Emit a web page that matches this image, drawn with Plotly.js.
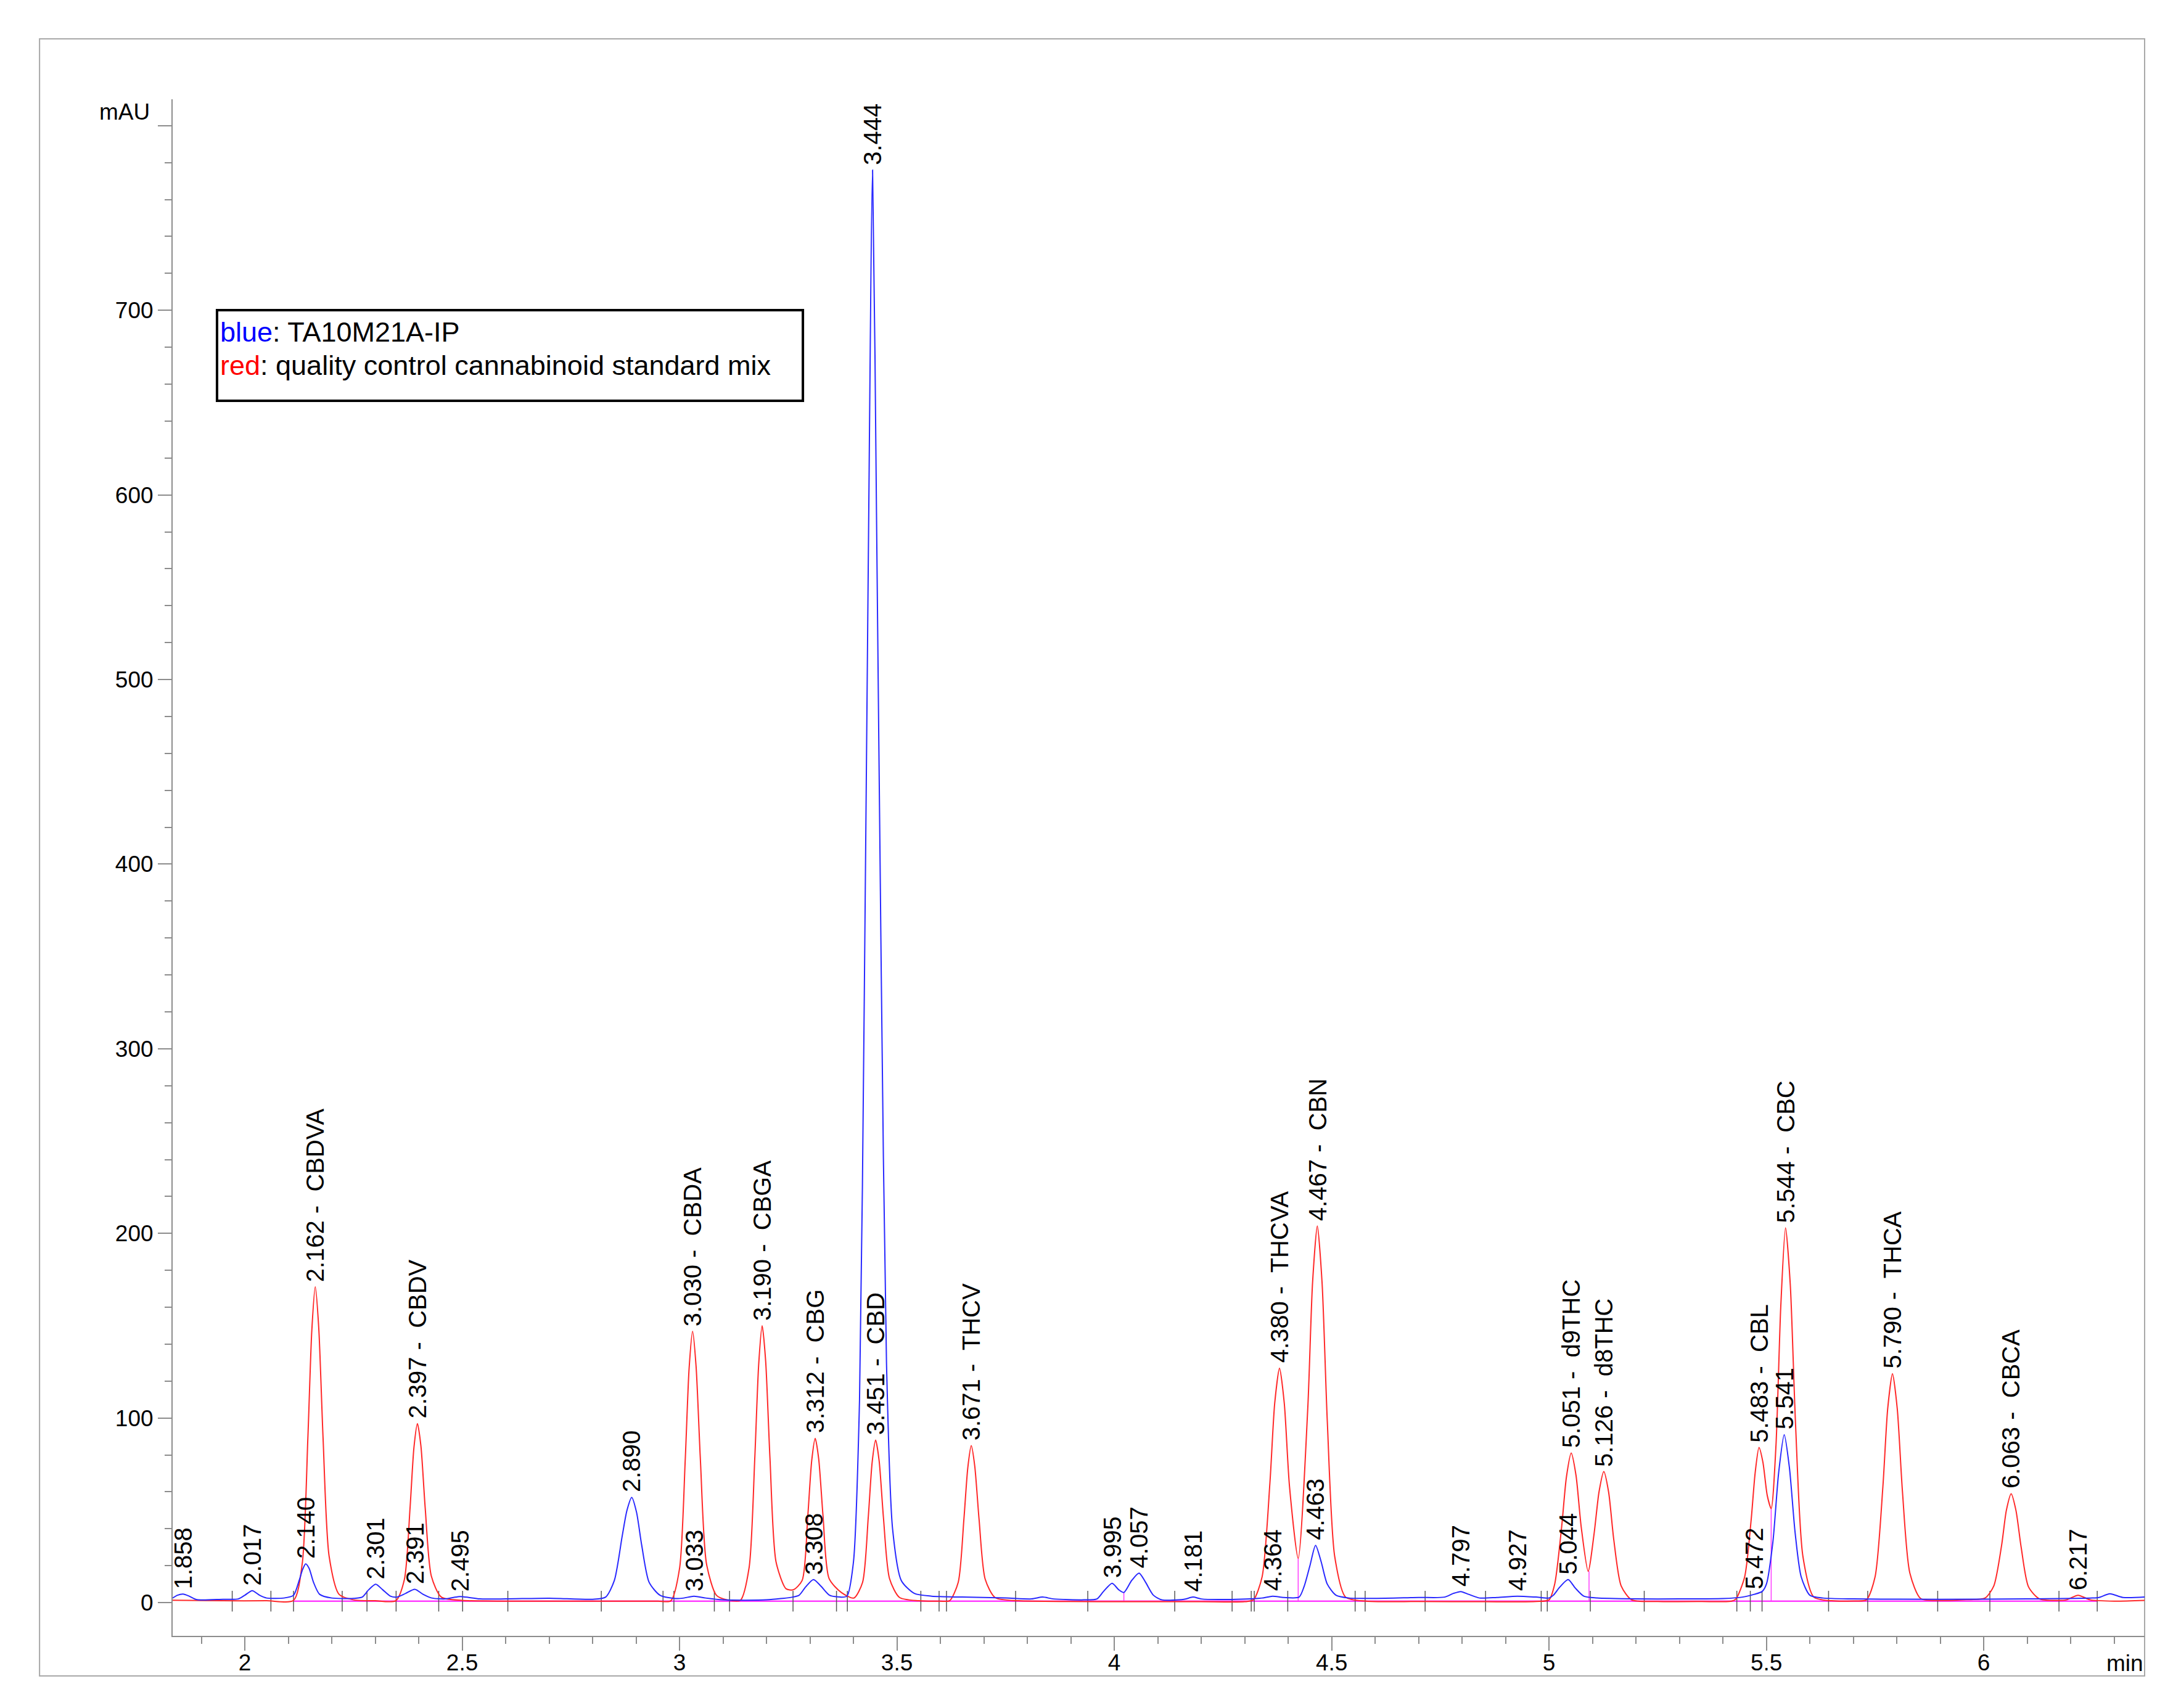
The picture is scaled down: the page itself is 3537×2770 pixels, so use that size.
<!DOCTYPE html>
<html>
<head>
<meta charset="utf-8">
<script src="https://cdn.plot.ly/plotly-3.0.1.min.js"></script>
<style>
  html, body { margin: 0; padding: 0; background: #fff; }
  #chart { width: 3537px; height: 2770px; }
</style>
</head>
<body>
<div id="chart"></div>
<script>
// red trace: quality control cannabinoid standard mix (time in min, signal in mAU)
const redTime = [
  1.834, 1.95, 2.05, 2.112,
  2.132, 2.145, 2.154, 2.162, 2.170, 2.180, 2.194, 2.217, 2.25, 2.30,
  2.347, 2.367, 2.380, 2.389, 2.397, 2.405, 2.415, 2.429, 2.452, 2.50, 2.60, 2.80, 2.95,
  2.980, 3.000, 3.013, 3.022, 3.030, 3.038, 3.048, 3.062, 3.085, 3.11,
  3.140, 3.160, 3.173, 3.182, 3.190, 3.198, 3.208, 3.222, 3.245,
  3.262, 3.282, 3.295, 3.304, 3.312, 3.320, 3.330, 3.344, 3.372,
  3.401, 3.421, 3.434, 3.443, 3.451, 3.459, 3.469, 3.483, 3.506, 3.55, 3.60,
  3.621, 3.641, 3.654, 3.663, 3.671, 3.679, 3.689, 3.703, 3.726, 3.78, 3.90, 4.05, 4.20, 4.30,
  4.320, 4.340, 4.358, 4.369, 4.380, 4.391, 4.403, 4.423,
  4.445, 4.456, 4.467, 4.478, 4.490, 4.507, 4.532, 4.58, 4.70, 4.85, 4.97,
  5.000, 5.013, 5.029, 5.040, 5.051, 5.062, 5.074, 5.090,
  5.104, 5.115, 5.126, 5.137, 5.149, 5.166, 5.19, 5.25, 5.35, 5.42,
  5.430, 5.450, 5.465, 5.474, 5.483, 5.492, 5.502, 5.511,
  5.522, 5.533, 5.544, 5.555, 5.567, 5.584, 5.609, 5.65, 5.70,
  5.730, 5.750, 5.768, 5.779, 5.790, 5.801, 5.813, 5.830, 5.855, 5.90, 5.96,
  6.003, 6.023, 6.041, 6.052, 6.063, 6.074, 6.086, 6.103, 6.128, 6.17,
  6.19, 6.217, 6.245, 6.30, 6.370
];
const redSignal = [
  1.3, 1.0, 1.0, 1.2,
  21, 89, 147, 171, 149, 89, 25, 4.4, 1.5, 1.0,
  1.0, 12.5, 51, 84, 97, 85, 51, 14.4, 3.0, 1.2, 0.8, 0.8, 0.8,
  1.0, 18.5, 77, 127, 147, 128, 77, 21, 3.9, 1.5,
  1.3, 19, 78, 129, 150, 131, 78, 22, 7.5,
  7.0, 12, 47, 77, 89, 78, 47, 13, 5.5,
  2.5, 11, 46, 76, 88, 77, 46, 13, 2.8, 1.0, 0.8,
  1.0, 11, 45, 73, 85, 74, 45, 12.7, 2.7, 1.0, 0.6, 0.5, 0.5, 0.5,
  1.5, 14, 65, 108, 127, 108, 63, 24,
  105, 173, 204, 173, 98, 25, 3.0, 0.8, 0.6, 0.5, 0.6,
  1.5, 10, 41, 68, 81, 69, 41, 17,
  38, 60, 71, 60, 34, 9, 1.5, 0.6, 0.6, 0.8,
  2, 14, 45, 70, 84, 76, 58, 51,
  85, 160, 203, 172, 97, 25, 3, 1.0, 0.9,
  1.5, 14, 63, 105, 124, 105, 60, 16, 2.2, 1.2, 1.6,
  2.5, 9, 31, 50, 59, 50, 30, 8.5, 2.0, 1.2,
  1.5, 4, 1.5, 0.8, 1.2
];

// blue trace: TA10M21A-IP
const blueTime = [
  1.834, 1.845, 1.858, 1.872, 1.89, 1.95,
  1.985, 2.000, 2.017, 2.034, 2.05, 2.09,
  2.112, 2.125, 2.133, 2.140, 2.148, 2.158, 2.172, 2.20, 2.25,
  2.27, 2.285, 2.301, 2.317, 2.335, 2.35,
  2.37, 2.391, 2.41, 2.43, 2.46,
  2.48, 2.495, 2.515, 2.54, 2.60, 2.70, 2.80,
  2.83, 2.85, 2.868, 2.879, 2.890, 2.901, 2.913, 2.93, 2.955, 2.99,
  3.01, 3.033, 3.06, 3.10, 3.20, 3.26,
  3.275, 3.29, 3.308, 3.325, 3.345, 3.37,
  3.385, 3.400, 3.414, 3.425, 3.434, 3.444, 3.453, 3.464, 3.476, 3.490, 3.510, 3.540, 3.58, 3.65, 3.75,
  3.81, 3.835, 3.86, 3.93,
  3.960, 3.975, 3.995, 4.010, 4.022, 4.040, 4.057, 4.072, 4.090, 4.11,
  4.16, 4.181, 4.20, 4.28,
  4.34, 4.364, 4.39, 4.425,
  4.437, 4.450, 4.463, 4.476, 4.490, 4.510, 4.54, 4.60, 4.70,
  4.76, 4.78, 4.797, 4.815, 4.84,
  4.88, 4.927, 4.97, 5.00,
  5.01, 5.025, 5.044, 5.06, 5.08, 5.11, 5.20, 5.30, 5.40,
  5.445, 5.472, 5.49,
  5.500, 5.515, 5.528, 5.541, 5.553, 5.566, 5.580, 5.600, 5.63, 5.70, 5.90, 6.10, 6.25,
  6.265, 6.29, 6.32, 6.370
];
const blueSignal = [
  2.5, 4, 4.6, 3.5, 1.6, 1.8,
  2, 4, 6.5, 4, 2.5, 2.5,
  4, 12, 18, 21, 18.5, 11, 4.5, 2.5, 2.3,
  3, 7, 10, 7, 3.5, 3,
  5, 7.2, 4.5, 2.5, 2,
  2.8, 3.3, 2.8, 2.0, 2.0, 2.4, 1.8,
  3, 12, 36, 50, 57, 49, 31, 11, 4, 2.2,
  2.5, 3.5, 2.5, 1.5, 1.5, 3,
  4, 8.5, 12.5, 9, 4, 3,
  3.5, 22, 110, 330, 560, 776, 590, 340, 130, 40, 12, 5, 3.5, 3, 2.5,
  2, 3, 2, 1.5,
  2, 6, 10.5, 7, 5.5, 12, 16, 11, 4, 1.5,
  1.8, 3, 2.0, 1.8,
  2.5, 3.5, 2.8, 3,
  9, 20, 31, 22, 10, 4, 2.5, 2.3, 2.8,
  3, 5, 6, 4.5, 2.5,
  2.8, 3.5, 3, 2.5,
  4, 8.5, 12.5, 8, 3.5, 2.5, 2, 2, 2.2,
  3, 4.5, 6,
  10, 33, 70, 91, 73, 38, 14, 4, 2.5, 2, 1.8, 2, 2.5,
  2.8, 4.8, 2.8, 3
];

// peak labels (retention time, compound, apex height)
const labelTime = [1.858, 2.017, 2.140, 2.162, 2.301, 2.391, 2.397, 2.495, 2.890, 3.030,
  3.033, 3.190, 3.308, 3.312, 3.444, 3.451, 3.671, 3.995, 4.057, 4.181,
  4.364, 4.380, 4.463, 4.467, 4.797, 4.927, 5.044, 5.051, 5.126, 5.472,
  5.483, 5.541, 5.544, 5.790, 6.063, 6.217];
const labelName = ['', '', '', 'CBDVA', '', '', 'CBDV', '', '', 'CBDA',
  '', 'CBGA', '', 'CBG', '', 'CBD', 'THCV', '', '', '',
  '', 'THCVA', '', 'CBN', '', '', '', 'd9THC', 'd8THC', '',
  'CBL', '', 'CBC', 'THCA', 'CBCA', ''];
const labelHeight = [4.6, 6.5, 21, 171, 10, 7.2, 97, 3.3, 57, 147,
  3.5, 150, 12.5, 89, 776, 88, 85, 10.5, 16, 3,
  3.5, 127, 31, 204, 6, 3.5, 12.5, 81, 71, 4.5,
  84, 91, 203, 124, 59, 4];

// integration marks, baseline and drop lines
const markTime = [1.971, 2.060, 2.112, 2.224, 2.281, 2.348, 2.446, 2.501, 2.605, 2.820,
  2.962, 2.987, 3.080, 3.115, 3.261, 3.361, 3.386, 3.555, 3.597, 3.614,
  3.773, 3.939, 4.139, 4.271, 4.315, 4.322, 4.399, 4.554, 4.577, 4.715,
  4.854, 4.982, 4.996, 5.095, 5.219, 5.432, 5.463, 5.490, 5.643, 5.733,
  5.894, 6.014, 6.173, 6.261];
const baseTime = [2.112, 6.261];
const baseLevel = [0.8, 0.8];
const dropTime = [4.022, 4.423, 5.092, 5.511];
const dropTop = [5.5, 24, 17, 51];

// axis ticks
const xTickVals = [2, 2.5, 3, 3.5, 4, 4.5, 5, 5.5, 6];
const xTickText = ['2', '2.5', '3', '3.5', '4', '4.5', '5', '5.5', '6'];
const yTickVals = [0, 100, 200, 300, 400, 500, 600, 700, 800];
const yTickText = ['0', '100', '200', '300', '400', '500', '600', '700', ''];

const axisGray = '#8c8c8c';
const fontFamily = 'Liberation Sans, Arial, Helvetica, sans-serif';

const dropX = [], dropY = [];
dropTime.forEach((t, i) => {
    dropX.push(t, t, null);
    dropY.push(baseLevel[0], dropTop[i], null);
});

const traces = [
    {
        x: baseTime, y: baseLevel, type: 'scatter', mode: 'lines',
        line: { color: '#ff3cff', width: 2.5 }, hoverinfo: 'skip'
    },
    {
        x: dropX, y: dropY, type: 'scatter', mode: 'lines',
        line: { color: '#ff3cff', width: 1.5 }, hoverinfo: 'skip'
    },
    {
        x: markTime, y: markTime.map(() => baseLevel[0]), type: 'scatter', mode: 'markers',
        marker: { symbol: 'line-ns', size: 24, line: { color: '#555555', width: 1.5 } },
        hoverinfo: 'skip'
    },
    {
        x: redTime, y: redSignal, type: 'scatter', mode: 'lines', name: 'red',
        line: { color: 'rgb(255,40,40)', width: 2, shape: 'spline', smoothing: 0.7 }
    },
    {
        x: blueTime, y: blueSignal, type: 'scatter', mode: 'lines', name: 'blue',
        line: { color: 'rgb(40,40,255)', width: 2, shape: 'spline', smoothing: 0.7 }
    }
];

const peakAnnotations = labelTime.map((t, i) => ({
    x: t, y: labelHeight[i], xref: 'x', yref: 'y',
    text: t.toFixed(3) + (labelName[i] ? ' -\u00a0 ' + labelName[i] : ''),
    showarrow: false, textangle: -90,
    xanchor: 'center', yanchor: 'bottom', yshift: 6,
    font: { size: 40, color: '#000' }
}));

const layout = {
    width: 3537,
    height: 2770,
    margin: { l: 280, r: 59, t: 161, b: 117 },
    paper_bgcolor: '#ffffff',
    plot_bgcolor: '#ffffff',
    showlegend: false,
    font: { family: fontFamily, size: 37, color: '#000' },
    xaxis: {
        range: [1.834, 6.370],
        showgrid: false, zeroline: false,
        showline: true, linecolor: axisGray, linewidth: 2,
        ticks: 'outside', ticklen: 22, tickwidth: 2, tickcolor: axisGray,
        tickmode: 'array', tickvals: xTickVals, ticktext: xTickText,
        ticklabelstandoff: -12,
        tickfont: { size: 37, color: '#000' },
        minor: { tickmode: 'linear', tick0: 0, dtick: 0.1, ticks: 'outside', ticklen: 11, tickwidth: 2, tickcolor: axisGray }
    },
    yaxis: {
        range: [-18, 814.3],
        showgrid: false, zeroline: false,
        showline: true, linecolor: axisGray, linewidth: 2,
        ticks: 'outside', ticklen: 22, tickwidth: 2, tickcolor: axisGray,
        tickmode: 'array', tickvals: yTickVals, ticktext: yTickText,
        tickfont: { size: 37, color: '#000' },
        minor: { tickmode: 'linear', tick0: 0, dtick: 20, ticks: 'outside', ticklen: 11, tickwidth: 2, tickcolor: axisGray }
    },
    shapes: [
        // outer frame
        { type: 'rect', xref: 'paper', yref: 'paper', x0: -0.0675, x1: 1.0, y0: -0.0261, y1: 1.0393,
          line: { color: '#a8a8a8', width: 2 }, fillcolor: 'rgba(0,0,0,0)', layer: 'below' },
        // legend box
        { type: 'rect', xref: 'paper', yref: 'paper', x0: 0.0225, x1: 0.3196, y0: 0.8038, y1: 0.8628,
          line: { color: '#000', width: 4 }, fillcolor: 'rgba(0,0,0,0)' }
    ],
    annotations: [
        { xref: 'paper', yref: 'paper', x: -0.0109, y: 0.9916, xanchor: 'right', yanchor: 'middle',
          text: 'mAU', showarrow: false, font: { size: 37, color: '#000' } },
        { xref: 'paper', yref: 'paper', x: 1.0, y: -0.0177, xanchor: 'right', yanchor: 'middle',
          text: 'min', showarrow: false, font: { size: 37, color: '#000' } },
        { xref: 'paper', yref: 'paper', x: 0.0235, y: 0.8487, xanchor: 'left', yanchor: 'middle',
          text: '<span style="color:#0000ff">blue</span>: TA10M21A-IP', showarrow: false,
          font: { size: 45, color: '#000' } },
        { xref: 'paper', yref: 'paper', x: 0.0235, y: 0.8270, xanchor: 'left', yanchor: 'middle',
          text: '<span style="color:#ff0000">red</span>: quality control cannabinoid standard mix', showarrow: false,
          font: { size: 45, color: '#000' } },
        ...peakAnnotations
    ]
};

Plotly.newPlot('chart', traces, layout, { displayModeBar: false, staticPlot: true });
</script>
</body>
</html>
